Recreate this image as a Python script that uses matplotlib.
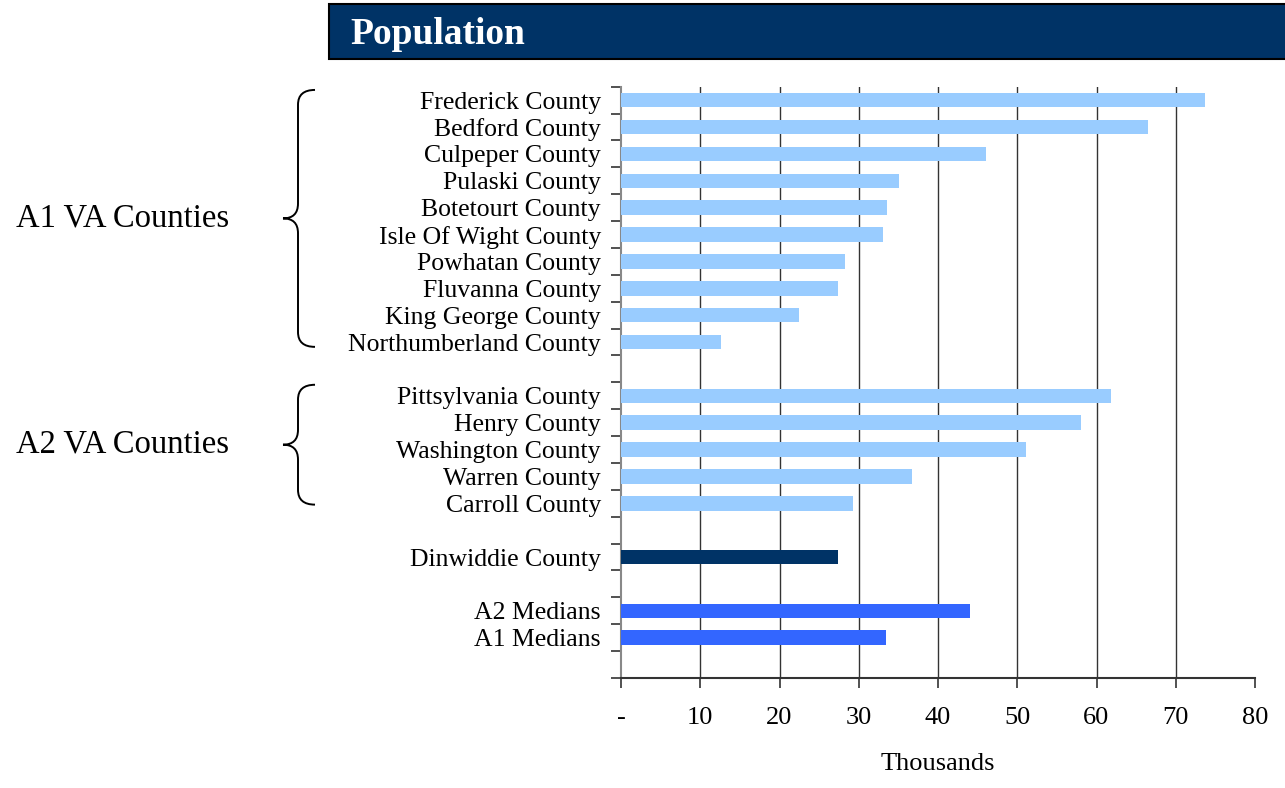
import matplotlib
matplotlib.use("Agg")
import matplotlib.pyplot as plt
from matplotlib.path import Path
from matplotlib.patches import PathPatch, Rectangle
import matplotlib.transforms as mtransforms

plt.rcParams['font.family'] = ['Liberation Serif', 'DejaVu Serif']

# ---- data (thousands) ----
a1_counties = ["Frederick County", "Bedford County", "Culpeper County", "Pulaski County",
               "Botetourt County", "Isle Of Wight County", "Powhatan County", "Fluvanna County",
               "King George County", "Northumberland County"]
a1_values = [73.7, 66.5, 46.1, 35.1, 33.6, 33.1, 28.3, 27.4, 22.4, 12.6]
a2_counties = ["Pittsylvania County", "Henry County", "Washington County", "Warren County",
               "Carroll County"]
a2_values = [61.8, 58.1, 51.1, 36.7, 29.3]
target_name = ["Dinwiddie County"]
target_value = [27.4]
median_names = ["A2 Medians", "A1 Medians"]
median_values = [44.0, 33.4]
x_ticks = [0, 10, 20, 30, 40, 50, 60, 70, 80]
x_tick_labels = ["-", "10", "20", "30", "40", "50", "60", "70", "80"]
group_labels = ["A1 VA Counties", "A2 VA Counties"]

light = "#99CCFF"
navy = "#003366"
med = "#3366FF"

# row layout: blank rows between groups
rows = []  # (label, value, color)
for n, v in zip(a1_counties, a1_values):
    rows.append((n, v, light))
rows.append(("", None, None))
for n, v in zip(a2_counties, a2_values):
    rows.append((n, v, light))
rows.append(("", None, None))
rows.append((target_name[0], target_value[0], navy))
rows.append(("", None, None))
for n, v in zip(median_names, median_values):
    rows.append((n, v, med))
rows.append(("", None, None))
nrows = len(rows)

fig = plt.figure(figsize=(12.85, 7.88), dpi=100)
ax = fig.add_axes([621 / 1285, 1 - 678 / 788, (1255 - 621) / 1285, (678 - 86.7) / 788])

for i, (n, v, c) in enumerate(rows):
    if v is not None:
        ax.barh(i, v, height=0.54, color=c, zorder=3)

ax.set_ylim(nrows - 0.5, -0.5)
ax.set_xlim(0, 80)

# major ticks at row boundaries, labels on minor ticks at centers
ax.set_yticks([i - 0.5 for i in range(nrows + 1)])
ax.set_yticklabels([])
ax.set_yticks(list(range(nrows)), minor=True)
ax.set_yticklabels([r[0] for r in rows], minor=True, fontsize=18.5)
ax.tick_params(axis='y', which='major', length=7, width=1.2, color='#333333', direction='out')
ax.tick_params(axis='y', which='minor', length=0, pad=14.5)

ax.set_xticks(x_ticks)
ax.set_xticklabels(x_tick_labels, fontsize=19)
ax.tick_params(axis='x', length=7, width=1.2, color='#333333', direction='out', pad=14)
ax.set_xlabel("Thousands", fontsize=19, labelpad=17)

for xv in x_ticks[1:-1]:
    ax.axvline(xv, color='#333333', lw=1, zorder=1)

for s in ['top', 'right']:
    ax.spines[s].set_visible(False)
ax.spines['left'].set_color('#888888')
ax.spines['left'].set_linewidth(1.5)
ax.spines['bottom'].set_color('#333333')
ax.spines['bottom'].set_linewidth(1.5)

# title banner
fig.patches.append(Rectangle((329 / 1285, 1 - 59 / 788), (1290 - 329) / 1285, 55 / 788,
                             transform=fig.transFigure, facecolor=navy, edgecolor='black',
                             lw=1.5, zorder=0))
fig.text(350 / 1285, 1 - 35 / 788, "Population", color='white', fontsize=27,
         fontweight='bold', va='center', ha='left')

# braces with group labels
blend = mtransforms.blended_transform_factory(fig.transFigure, ax.transData)

def brace(y_top, y_bot, label):
    xr, xm, xt = 315 / 1285, 298 / 1285, 283 / 1285
    ymid = (y_top + y_bot) / 2
    r = 0.55
    verts = [(xr, y_top), (xm, y_top), (xm, y_top + r),
             (xm, ymid - r),
             (xm, ymid), (xt, ymid),
             (xm, ymid), (xm, ymid + r),
             (xm, y_bot - r),
             (xm, y_bot), (xr, y_bot)]
    codes = [Path.MOVETO, Path.CURVE3, Path.CURVE3,
             Path.LINETO,
             Path.CURVE3, Path.CURVE3,
             Path.CURVE3, Path.CURVE3,
             Path.LINETO,
             Path.CURVE3, Path.CURVE3]
    patch = PathPatch(Path(verts, codes), transform=blend, facecolor='none',
                      edgecolor='black', lw=1.4, clip_on=False)
    fig.patches.append(patch)
    fig.text(16 / 1285, ymid, label, fontsize=23.5, va='center', ha='left', transform=blend)

brace(-0.38, 9.18, group_labels[0])
brace(10.59, 15.05, group_labels[1])

fig.savefig("out.png", dpi=100)
